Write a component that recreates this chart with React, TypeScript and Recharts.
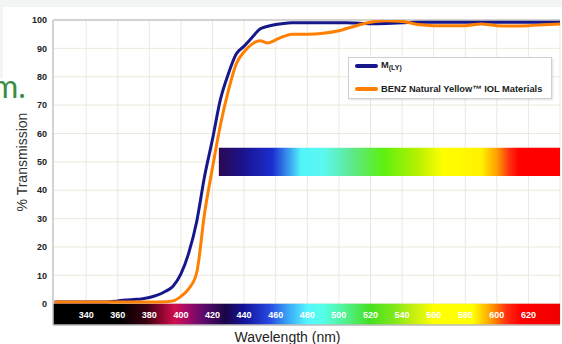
import { LineChart, Line, XAxis, YAxis, CartesianGrid, ReferenceArea, ReferenceLine, Legend, Label } from 'recharts';

// wavelength (nm) and % transmission
const wavelengths = [320, 330, 340, 350, 355, 360, 365, 370, 375, 380, 385, 390, 395, 400, 405, 410, 415, 420, 425, 430, 435, 440, 445, 450, 455, 460, 465, 470, 480, 490, 500, 505, 510, 515, 520, 530, 540, 550, 560, 570, 580, 590, 600, 610, 620, 630, 640];
const mLY = [0.6, 0.6, 0.6, 0.6, 0.7, 1.0, 1.3, 1.5, 1.7, 2.2, 3.0, 4.3, 6.2, 10.5, 18, 29, 45, 58, 72, 81, 88, 90.8, 93.8, 96.8, 97.8, 98.4, 98.8, 99, 99, 99, 99, 99, 98.9, 98.8, 98.7, 98.8, 99, 99.2, 99.2, 99.2, 99.2, 99.2, 99.2, 99.2, 99.2, 99.2, 99.2];
const benz = [0.6, 0.6, 0.6, 0.6, 0.6, 0.6, 0.6, 0.6, 0.6, 0.6, 0.6, 0.7, 1.0, 2.6, 5.3, 11, 32, 48, 63, 75, 84.5, 88.8, 91.5, 92.7, 91.9, 93, 94.2, 95, 95, 95.3, 96.2, 97, 97.8, 98.6, 99.2, 99.7, 99.5, 98.4, 98, 98, 98, 98.6, 98, 97.9, 98, 98.3, 98.6];

const seriesNames = ['M(LY)', 'BENZ Natural Yellow™ IOL Materials'];

const xTicks = [340, 360, 380, 400, 420, 440, 460, 480, 500, 520, 540, 560, 580, 600, 620];
const yTicks = [0, 10, 20, 30, 40, 50, 60, 70, 80, 90, 100];

const X_MIN = 319;
const X_MAX = 640;
const VIS_START = 424;

// colour stops of the two spectrum bands: [nm, colour]
const lowerStops: [number, string][] = [
  [319, '#000000'], [362, '#000000'], [378, '#3a0010'], [390, '#a00838'], [396, '#d0104c'],
  [402, '#b00a64'], [415, '#5a0a6a'], [428, '#1a0548'], [440, '#12129a'], [456, '#2848e0'],
  [468, '#3aa8f8'], [480, '#55f5ff'], [490, '#55ffe8'], [505, '#50f08a'], [520, '#45e020'],
  [535, '#80e818'], [548, '#c8f010'], [560, '#ffff00'], [585, '#ffff00'], [596, '#ffa000'],
  [606, '#ff3010'], [615, '#ff0000'], [640, '#f00000'],
];
const upperStops: [number, string][] = [
  [424, '#2c0850'], [440, '#1a1490'], [458, '#1c2ed0'], [468, '#3a98f0'], [476, '#50f4fa'],
  [490, '#5cf8f0'], [508, '#5ee890'], [528, '#5cf010'], [550, '#b8f000'], [566, '#ffff00'],
  [590, '#fff200'], [600, '#ffa000'], [608, '#ff3010'], [614, '#ff0000'], [640, '#ff0000'],
];

const data = wavelengths.map((wl, i) => ({ wl, mly: mLY[i], benz: benz[i] }));

const FONT = '"Liberation Sans", Arial, sans-serif';

const SpectrumTick = ({ x, y, payload }: any) => (
  <text x={x} y={y - 7} textAnchor="middle" fill="#fff" fontSize={9} fontWeight="bold" fontFamily={FONT}>
    {payload.value}
  </text>
);

const YTitle = ({ viewBox }: any) => {
  const cx = viewBox.x + 22;
  const cy = viewBox.y + 142;
  return (
    <text x={cx} y={cy} transform={`rotate(-90 ${cx} ${cy})`} textAnchor="middle" dominantBaseline="central" fill="#333" fontSize={14} fontFamily={FONT}>
      % Transmission
    </text>
  );
};

const XTitle = ({ viewBox }: any) => (
  <text x={viewBox.x + viewBox.width / 2 - 19} y={341.5} textAnchor="middle" fill="#222" fontSize={14} fontFamily={FONT}>
    Wavelength (nm)
  </text>
);

const legendName = (v: string) =>
  v === 'M(LY)' ? (
    <span>M<sub style={{ fontSize: 7, verticalAlign: -2 }}>(LY)</sub></span>
  ) : (
    v
  );

const LegendBox = ({ payload }: any) => {
  const items = [...(payload || [])].sort((a: any, b: any) => seriesNames.indexOf(a.value) - seriesNames.indexOf(b.value));
  return (
    <div style={{ position: 'relative', width: 204, height: 42, boxSizing: 'border-box', border: '1px solid #d0d0d0', background: '#fff', boxShadow: '1px 1px 2px rgba(0,0,0,0.12)', fontFamily: FONT, fontSize: 9.3, fontWeight: 'bold', color: '#222' }}>
      {items.map((p: any, i: number) => (
        <div key={p.value} style={{ position: 'absolute', left: 6, top: 1 + i * 23, height: 14, display: 'flex', alignItems: 'center', whiteSpace: 'nowrap' }}>
          <div style={{ width: 23, height: 4.5, borderRadius: 2.5, background: p.color, marginRight: 3 }} />
          <span style={{ lineHeight: '14px' }}>{legendName(p.value)}</span>
        </div>
      ))}
    </div>
  );
};

export default function App() {
  return (
    <div style={{ position: 'absolute', left: 0, top: 0, width: 562, height: 344, background: '#fff', overflow: 'hidden' }}>
      <div style={{ position: 'absolute', left: 0, top: 0, width: 562, height: 7, background: '#f2f5f4' }} />
      <div style={{ position: 'absolute', left: 0, top: 7, width: 3, height: 71, background: '#f2f5f4' }} />
      <div style={{ position: 'absolute', left: -8, top: 66, fontFamily: 'Lato, sans-serif', fontSize: 32, color: '#3d8c45', lineHeight: '40px' }}>m.</div>
      <div style={{ position: 'absolute', left: 0, top: 0 }}>
        <LineChart width={562} height={344} data={data} margin={{ top: 20, right: 2, bottom: 0, left: 0 }} style={{ fontFamily: FONT }}>
          <defs>
            <linearGradient id="lowerSpec" x1="0" y1="0" x2="1" y2="0">
              {lowerStops.map(([nm, c]) => (
                <stop key={nm} offset={(nm - X_MIN) / (X_MAX - X_MIN)} stopColor={c} />
              ))}
            </linearGradient>
            <linearGradient id="upperSpec" x1="0" y1="0" x2="1" y2="0">
              {upperStops.map(([nm, c]) => (
                <stop key={nm} offset={(nm - VIS_START) / (X_MAX - VIS_START)} stopColor={c} />
              ))}
            </linearGradient>
          </defs>
          <CartesianGrid stroke="#ebe9db" strokeWidth={1} />
          <XAxis
            type="number"
            dataKey="wl"
            domain={[X_MIN, X_MAX]}
            ticks={xTicks}
            allowDataOverflow
            height={19}
            tickSize={0}
            tickMargin={0}
            tickLine={false}
            axisLine={{ stroke: '#bdbdbd', strokeWidth: 1.5 }}
            tick={<SpectrumTick />}
            interval={0}
          >
            <Label content={<XTitle />} />
          </XAxis>
          <YAxis
            type="number"
            domain={[-7.5, 100]}
            ticks={yTicks}
            allowDataOverflow
            width={53}
            tickSize={0}
            tickMargin={6}
            tickLine={false}
            axisLine={{ stroke: '#c8c8c8', strokeWidth: 1.5 }}
            tick={{ fill: '#222', fontSize: 9, fontWeight: 'bold' }}
            interval={0}
          >
            <Label content={<YTitle />} />
          </YAxis>
          <ReferenceLine y={100} stroke="#c8c8c8" strokeWidth={1.5} />
          <ReferenceArea x1={X_MIN} x2={X_MAX} y1={-7.5} y2={0} fill="url(#lowerSpec)" fillOpacity={1} stroke="none" />
          <ReferenceArea x1={VIS_START} x2={X_MAX} y1={45} y2={55} fill="url(#upperSpec)" fillOpacity={1} stroke="none" />
          <Legend
            layout="vertical"
            align="center"
            verticalAlign="middle"
            wrapperStyle={{ left: 348, top: 57, width: 204, height: 42 }}
            content={<LegendBox />}
          />
          <Line type="monotone" dataKey="mly" name={seriesNames[0]} stroke="#17178c" strokeWidth={3} dot={false} activeDot={false} isAnimationActive={false} />
          <Line type="monotone" dataKey="benz" name={seriesNames[1]} stroke="#ff8000" strokeWidth={3} dot={false} activeDot={false} isAnimationActive={false} />
        </LineChart>
      </div>
    </div>
  );
}
